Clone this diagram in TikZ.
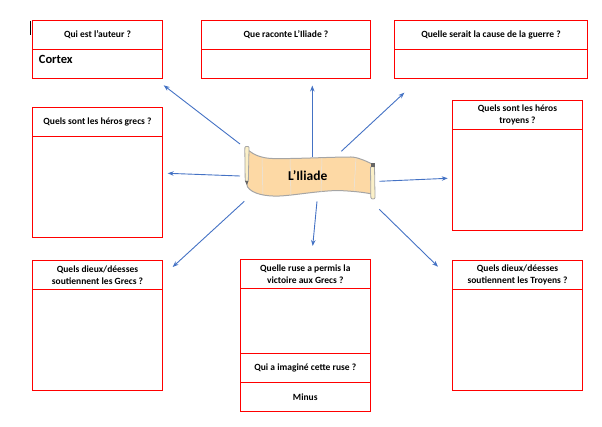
\documentclass[tikz,border=0pt]{standalone}
\usepackage{fontspec}
\setmainfont{Carlito}
\usetikzlibrary{arrows.meta,positioning}
\definecolor{linkblue}{HTML}{4472C4}
\definecolor{parch}{HTML}{FDD9A5}
\definecolor{rollc}{HTML}{FBF0C8}
\definecolor{rim}{HTML}{A5A5A5}
\tikzset{
  cellbox/.style={draw=red,line width=0.9pt,minimum width=130pt,inner sep=0pt,outer sep=0pt,align=center,anchor=north west,font=\fontsize{9.5}{12}\bfseries\selectfont},
  link/.style={draw=linkblue,line width=0.9pt,-{Stealth[length=6pt,width=4.5pt]}},
}
\begin{document}
\begin{tikzpicture}[x=1pt,y=-1pt]
\useasboundingbox (0,0) rectangle (602,427);
% cursor
\draw[black,line width=0.7pt] (30.7,20.7) -- (30.7,34.7);
% box 1
\node[cellbox,minimum height=29pt] (b1h) at (32.5,20.5) {Qui est l’auteur ?};
\node[cellbox,minimum height=29pt] (b1b) at (32.5,49.5) {};
\node[anchor=west,inner sep=0pt,font=\fontsize{12.5}{14}\bfseries\selectfont] (cortex) at (38.7,59.3) {Cortex};
% box 2
\node[cellbox,minimum width=169pt,minimum height=29pt] (b2h) at (201.5,20.5) {Que raconte L’Iliade ?};
\node[cellbox,minimum width=169pt,minimum height=29pt] (b2b) at (201.5,49.5) {};
% box 3
\node[cellbox,minimum width=193pt,minimum height=29pt] (b3h) at (394.5,20.5) {Quelle serait la cause de la guerre ?};
\node[cellbox,minimum width=193pt,minimum height=29pt] (b3b) at (394.5,49.5) {};
% box 4
\node[cellbox,minimum height=29pt] (b4h) at (32.5,107.5) {Quels sont les héros grecs ?};
\node[cellbox,minimum height=101pt] (b4b) at (32.5,136.5) {};
% box 5
\node[cellbox,minimum height=29pt] (b5h) at (452.5,100.3) {Quels sont les héros\\troyens ?};
\node[cellbox,minimum height=101pt] (b5b) at (452.5,129.3) {};
% box 6
\node[cellbox,minimum height=29pt] (b6h) at (32.5,260.3) {Quels dieux/déesses\\soutiennent les Grecs ?};
\node[cellbox,minimum height=101pt] (b6b) at (32.5,289.3) {};
% box 7
\node[cellbox,minimum height=29pt] (b7h) at (240.3,259.3) {Quelle ruse a permis la\\victoire aux Grecs ?};
\node[cellbox,minimum height=65pt] (b7b) at (240.3,288.3) {};
\node[cellbox,minimum height=29pt] (b7c) at (240.3,353.3) {Qui a imaginé cette ruse ?};
\node[cellbox,minimum height=29pt] (b7d) at (240.3,382.3) {Minus};
% box 8
\node[cellbox,minimum height=29pt] (b8h) at (452.5,260.3) {Quels dieux/déesses\\soutiennent les Troyens ?};
\node[cellbox,minimum height=101pt] (b8b) at (452.5,289.3) {};
% scroll
\draw[rim,line width=1pt,fill=parch,rounded corners=1pt]
  (248,150) .. controls (254,155) and (262,158) .. (272,158.5)
  .. controls (295,159) and (330,157) .. (352,157)
  .. controls (360,158) and (368,162) .. (374,165)
  -- (372,194)
  .. controls (362,192) and (350,191) .. (338,190.5)
  .. controls (318,191) and (296,195) .. (280,196)
  .. controls (266,196.5) and (252,194) .. (247,186)
  -- cycle;
\draw[white!70!rim,line width=0.5pt]
  (262,158) -- (263,194) (290,159) -- (291,195) (322,158) -- (321,192) (356,158) -- (354,191);
\draw[rim,line width=0.8pt,fill=rollc,rounded corners=1.5pt]
  (244.8,149) .. controls (245,146) and (249,146) .. (249,149) -- (248.3,182) -- (245.2,182) -- cycle;
\fill[black!60] (245,181) -- (248.5,181) -- (246.8,185) -- cycle;
\draw[rim,line width=0.8pt,fill=rollc,rounded corners=1.5pt]
  (370.5,166) -- (374.5,166) -- (375,196) .. controls (375,199.5) and (371,199.5) .. (370.8,196) -- cycle;
\fill[black!60] (371,163.5) -- (375,163.5) -- (375,167) -- (371,167) -- cycle;
\node[inner sep=0pt,font=\fontsize{13.5}{14}\bfseries\selectfont] (scroll) at (307.7,175.7) {L’Iliade};
% connector ends
\coordinate (s1) at (240,144); \coordinate (e1) at (163.7,85.3);
\coordinate (s2) at (312.3,157); \coordinate (e2) at (312.3,85.5);
\coordinate (s3) at (341.3,151.3); \coordinate (e3) at (404.3,92.7);
\coordinate (s4) at (240,176); \coordinate (e4) at (167.7,173.3);
\coordinate (s5) at (379.3,181.3); \coordinate (e5) at (447.7,178.3);
\coordinate (s6) at (244.3,201.3); \coordinate (e6) at (172.7,267);
\coordinate (s7) at (317,201.3); \coordinate (e7) at (312.7,246);
\coordinate (s8) at (379.3,209.3); \coordinate (e8) at (438,266.7);
\foreach \i in {1,...,8} \draw[link] (s\i) -- (e\i);
\end{tikzpicture}
\end{document}
